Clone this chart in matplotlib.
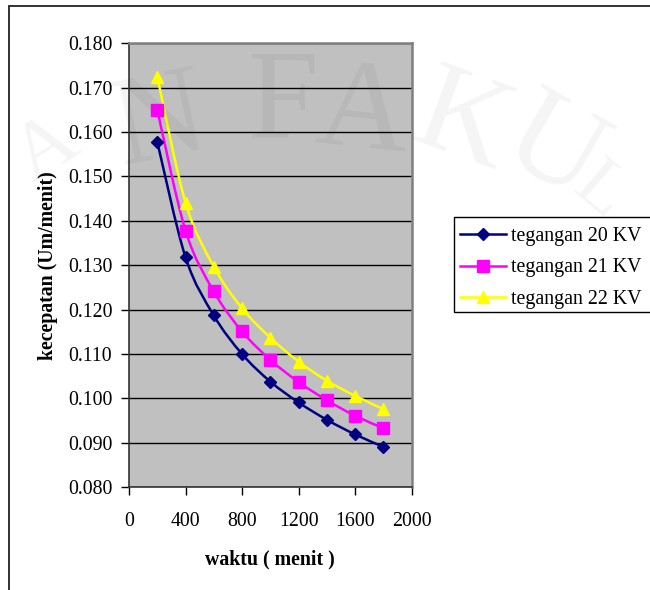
import matplotlib
matplotlib.use("Agg")
import matplotlib.pyplot as plt
import numpy as np
from matplotlib.path import Path
from matplotlib.patches import PathPatch, Rectangle
from matplotlib.lines import Line2D

waktu = [200, 400, 600, 800, 1000, 1200, 1400, 1600, 1800]
kv20 = [0.1578, 0.1318, 0.1187, 0.1100, 0.1038, 0.0991, 0.0952, 0.0919, 0.0891]
kv21 = [0.1650, 0.1378, 0.1241, 0.1151, 0.1087, 0.1037, 0.0996, 0.0961, 0.0933]
kv22 = [0.1725, 0.1441, 0.1297, 0.1203, 0.1137, 0.1083, 0.1040, 0.1006, 0.0976]
labels = ["tegangan 20 KV", "tegangan 21 KV", "tegangan 22 KV"]
colors = ["#000080", "#FF00FF", "#FFFF00"]
markers = ["D", "s", "^"]
msizes = [6, 8, 8.5]

yticks = [0.080, 0.090, 0.100, 0.110, 0.120, 0.130, 0.140, 0.150, 0.160, 0.170, 0.180]
xticks = [0, 400, 800, 1200, 1600, 2000]

plt.rcParams["font.family"] = ["Liberation Serif", "DejaVu Serif"]
FS = 14.3


def smooth_path(x, y):
    # cubic bezier through the points, control points like a spreadsheet "smoothed line"
    pts = np.column_stack([x, y]).astype(float)
    n = len(pts)
    verts = [pts[0]]
    codes = [Path.MOVETO]
    for i in range(n - 1):
        p0 = pts[i - 1] if i > 0 else pts[i]
        p1, p2 = pts[i], pts[i + 1]
        p3 = pts[i + 2] if i + 2 < n else pts[i + 1]
        c1 = p1 + (p2 - p0) / 6.0
        c2 = p2 - (p3 - p1) / 6.0
        verts += [c1, c2, p2]
        codes += [Path.CURVE4] * 3
    return Path(verts, codes)


fig = plt.figure(figsize=(6.5, 5.9), dpi=100)

# chart border
fig.patches.append(Rectangle((9 / 650, -0.1), 1.2, 1.1 - 6 / 590, transform=fig.transFigure,
                             fill=False, edgecolor="#222222", linewidth=1.3))

ax = fig.add_axes([129 / 650, 1 - 487.3 / 590, 282.7 / 650, 444 / 590])
ax.set_facecolor("#C0C0C0")

for yv, col, mk, ms in zip([kv20, kv21, kv22], colors, markers, msizes):
    ax.add_patch(PathPatch(smooth_path(waktu, yv), fill=False, edgecolor=col, linewidth=1.8, zorder=3))
    ax.plot(waktu, yv, linestyle="none", marker=mk, color=col, markersize=ms, zorder=4)

ax.set_xlim(0, 2000)
ax.set_ylim(0.080, 0.180)
ax.set_xticks(xticks)
ax.set_xticklabels([str(v) for v in xticks])
ax.set_yticks(yticks)
ax.set_yticklabels([f"{v:.3f}" for v in yticks])
ax.tick_params(direction="out", length=6, width=1, labelsize=FS, pad=6, color="black")
ax.tick_params(axis="x", pad=12)
ax.yaxis.grid(True, color="black", linewidth=1)
ax.set_axisbelow(True)
for s in ["top", "right"]:
    ax.spines[s].set_color("#808080")
    ax.spines[s].set_linewidth(1.8)
for s in ["left", "bottom"]:
    ax.spines[s].set_color("#333333")
    ax.spines[s].set_linewidth(1.2)

ax.set_ylabel("kecepatan (Um/menit)", fontsize=FS, fontweight="bold", labelpad=7)
ax.set_xlabel("waktu ( menit )", fontsize=FS, fontweight="bold", labelpad=13)

# legend box runs off the right edge
fig.patches.append(Rectangle((454 / 650, 1 - 312 / 590), 220 / 650, 95 / 590, transform=fig.transFigure,
                             facecolor="white", edgecolor="black", linewidth=1.0, zorder=5))
handles = [Line2D([], [], color=c, marker=m, markersize=ms, linewidth=1.8)
           for c, m, ms in zip(colors, markers, msizes)]
leg = fig.legend(handles, labels, loc="upper left", bbox_to_anchor=(456 / 650, 1 - 223 / 590),
                 fontsize=FS, frameon=False, borderaxespad=0, borderpad=0.2,
                 handlelength=2.3, handletextpad=0.25, labelspacing=0.63)
leg.set_zorder(6)

# faint watermark letters
wm = [("A", 46, 150, 32, 60), ("N", 160, 125, 12, 92), ("F", 283, 106, 0, 92), ("A", 363, 116, -6, 92),
      ("K", 462, 126, -20, 92), ("U", 552, 152, -30, 92), ("L", 600, 192, -40, 54)]
for ch, px, py, rot, size in wm:
    fig.text(px / 650, 1 - py / 590, ch, fontsize=size, color="black", alpha=0.045,
             ha="center", va="center", rotation=rot, zorder=10)

fig.savefig("out.png", dpi=100)
